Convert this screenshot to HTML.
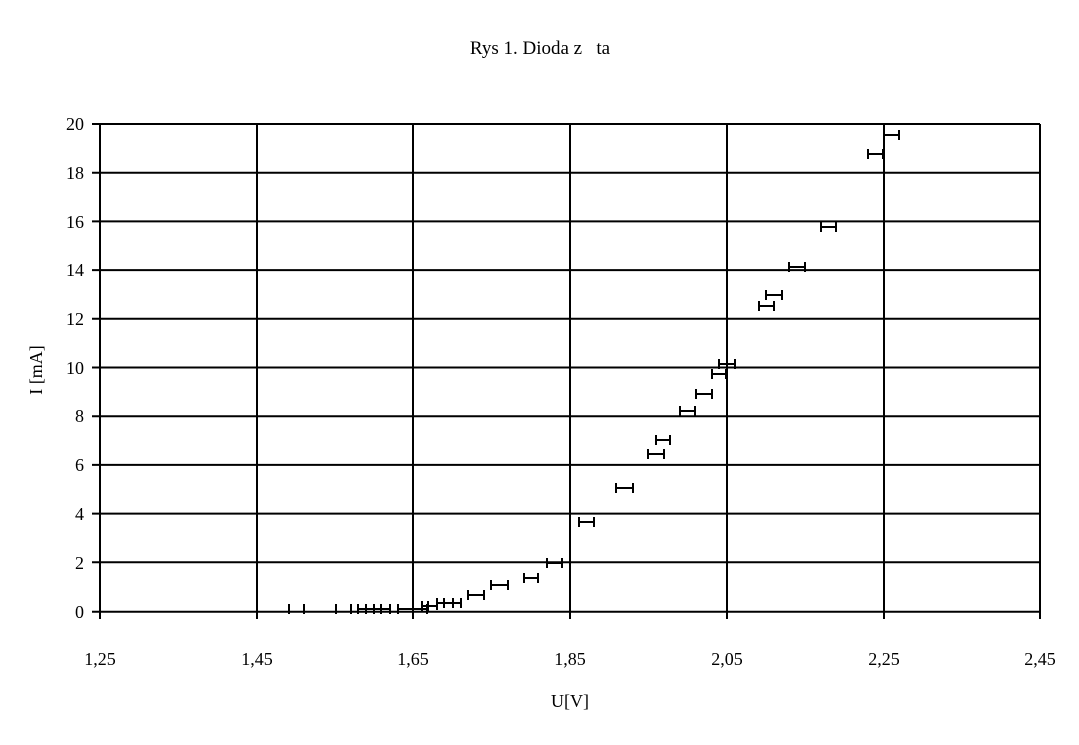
<!DOCTYPE html>
<html><head><meta charset="utf-8"><style>
body{margin:0;background:#fff;}
svg text{font-family:"Liberation Serif",serif;fill:#000;}
</style></head><body>
<svg width="1079" height="740" xmlns="http://www.w3.org/2000/svg">
<text x="540" y="54" font-size="19" text-anchor="middle">Rys 1. Dioda z&#160;&#160;&#160;ta</text>
<g stroke="#000" stroke-width="2">
<line x1="92" y1="124" x2="1040" y2="124"/>
<line x1="92" y1="172.7" x2="1040" y2="172.7"/>
<line x1="92" y1="221.4" x2="1040" y2="221.4"/>
<line x1="92" y1="270.1" x2="1040" y2="270.1"/>
<line x1="92" y1="318.8" x2="1040" y2="318.8"/>
<line x1="92" y1="367.5" x2="1040" y2="367.5"/>
<line x1="92" y1="416.2" x2="1040" y2="416.2"/>
<line x1="92" y1="464.9" x2="1040" y2="464.9"/>
<line x1="92" y1="513.6" x2="1040" y2="513.6"/>
<line x1="92" y1="562.3" x2="1040" y2="562.3"/>
<line x1="92" y1="611.7" x2="1040" y2="611.7"/>
<line x1="100" y1="124" x2="100" y2="619"/>
<line x1="257" y1="124" x2="257" y2="619"/>
<line x1="413" y1="124" x2="413" y2="619"/>
<line x1="570" y1="124" x2="570" y2="619"/>
<line x1="727" y1="124" x2="727" y2="619"/>
<line x1="884" y1="124" x2="884" y2="619"/>
<line x1="1040" y1="124" x2="1040" y2="619"/>
</g>
<g font-size="18" text-anchor="end">
<text x="84" y="130">20</text><text x="84" y="179">18</text><text x="84" y="228">16</text>
<text x="84" y="276">14</text><text x="84" y="325">12</text><text x="84" y="374">10</text>
<text x="84" y="422">8</text><text x="84" y="471">6</text><text x="84" y="520">4</text>
<text x="84" y="569">2</text><text x="84" y="618">0</text>
</g>
<g font-size="18" text-anchor="middle">
<text x="100" y="665">1,25</text><text x="257" y="665">1,45</text><text x="413" y="665">1,65</text>
<text x="570" y="665">1,85</text><text x="727" y="665">2,05</text><text x="884" y="665">2,25</text>
<text x="1040" y="665">2,45</text>
<text x="570" y="707">U[V]</text>
</g>
<text x="0" y="0" font-size="18" text-anchor="middle" transform="translate(42,370) rotate(-90)">I [mA]</text>
<g stroke="#000" stroke-width="2" fill="none">
<path d="M289 604V614M304 604V614M336 604V614M351 604V614"/>
<path d="M358 609H390M358 604V614M366 604V614M374 604V614M381 604V614M390 604V614"/>
<path d="M398 609H427M398 604V614M427 604V614"/>
<path d="M422 606H437M422 601V611M428 601V611M437 600V610"/>
<path d="M437 603H461M437 598V608M444 598V608M453 598V608M461 598V608"/>
<path d="M468 595H484M468 590V600M484 590V600"/>
<path d="M491 585H508M491 580V590M508 580V590"/>
<path d="M524 578H538M524 573V583M538 573V583"/>
<path d="M547 563H562M547 558V568M562 558V568"/>
<path d="M579 522H594M579 517V527M594 517V527"/>
<path d="M616 488H633M616 483V493M633 483V493"/>
<path d="M648 454H664M648 449V459M664 449V459"/>
<path d="M656 440H670M656 435V445M670 435V445"/>
<path d="M680 411H695M680 406V416M695 406V416"/>
<path d="M696 394H712M696 389V399M712 389V399"/>
<path d="M712 374H726M712 369V379M726 369V379"/>
<path d="M719 364H735M719 359V369M735 359V369"/>
<path d="M759 306H774M759 301V311M774 301V311"/>
<path d="M766 295H782M766 290V300M782 290V300"/>
<path d="M789 267H805M789 262V272M805 262V272"/>
<path d="M821 227H836M821 222V232M836 222V232"/>
<path d="M868 154H883M868 149V159M883 149V159"/>
<path d="M884 135H899M884 130V140M899 130V140"/>
</g>
</svg>
</body></html>
